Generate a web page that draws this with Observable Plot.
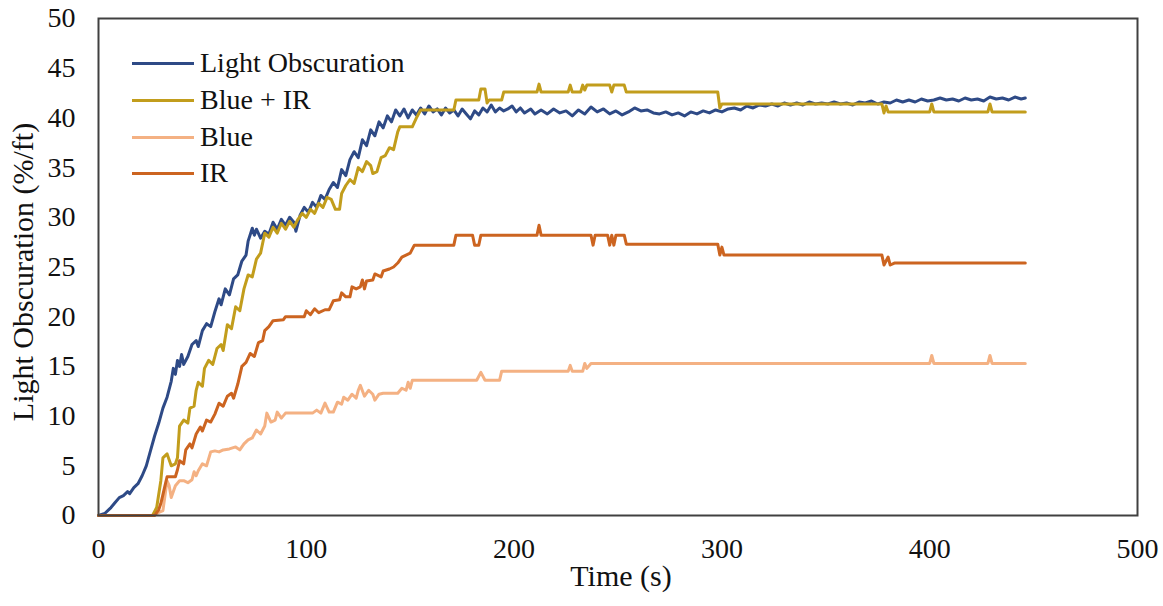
<!DOCTYPE html>
<html>
<head>
<meta charset="utf-8">
<script src="https://cdn.jsdelivr.net/npm/d3@7"></script>
<script src="https://cdn.jsdelivr.net/npm/@observablehq/plot@0.6"></script>
<style>
  html, body { margin: 0; padding: 0; background: #fff; }
  #wrap { position: relative; width: 1163px; height: 606px; font-family: "Liberation Serif", "Times New Roman", serif; }
  .leg { position: absolute; left: 132px; height: 36px; line-height: 36px; font-size: 28px; color: #111; white-space: nowrap; font-family: "Liberation Serif", "Times New Roman", serif; }
  .leg .sw { display: inline-block; width: 62px; height: 3px; vertical-align: middle; margin-right: 6px; position: relative; top: -2px; }
</style>
</head>
<body>
<div id="wrap"></div>
<script>
// ---- Data ----
const seriesNames = ["Light Obscuration", "Blue + IR", "Blue", "IR"];
const seriesColors = ["#2E4A86", "#C29D1C", "#F4B183", "#CC6420"];
const xTicks = [0, 100, 200, 300, 400, 500];
const yTicks = [0, 5, 10, 15, 20, 25, 30, 35, 40, 45, 50];

// Light Obscuration: [time (s), %/ft]
const lightObscuration = [
  [0,0],[3,0.2],[6,0.8],[8,1.3],[10,1.8],[12,2.0],[14,2.4],[15,2.2],[17,2.8],[19,3.2],[21,4.0],[23,5.0],
  [25,6.5],[27,8.0],[29,9.3],[31,10.8],[33,11.9],[35,13.5],[36,14.8],[37,14.2],[38,15.6],[39,15.0],[40,16.2],
  [41,15.2],[43,16.0],[45,17.2],[47,17.6],[48,17.0],[50,18.6],[52,19.3],[54,19.0],[56,20.5],[58,21.8],[59,21.2],
  [61,22.8],[63,22.2],[65,23.8],[67,24.2],[69,25.6],[71,26.2],[72,27.6],[74,28.9],[75,28.2],[76,28.8],[78,27.9],
  [80,28.6],[82,28.3],[84,29.5],[86,28.8],[88,29.8],[90,29.2],[92,30.0],[94,29.5],[95,28.6],[97,30.2],[99,31.0],
  [101,30.5],[103,31.5],[105,31.0],[107,32.2],[109,31.8],[111,32.8],[113,33.5],[115,33.0],[117,34.8],[119,34.2],
  [121,35.8],[123,36.6],[125,36.0],[127,37.8],[129,37.2],[131,38.8],[133,38.2],[135,39.6],[137,39.0],[139,40.2],
  [141,39.6],[143,40.8],[145,40.2],[147,40.9],[149,40.0],[151,40.8],[153,40.3],[155,41.0],[157,40.4],[159,41.2],
  [161,40.6],[163,40.9],[165,40.3],[167,41.0],[169,40.5],[171,40.8],[173,40.2],[175,40.9],[177,40.4],[179,39.9],
  [181,40.7],[183,40.3],[185,41.0],[187,40.6],[189,41.3],[191,40.6],[193,41.0],[195,40.7],[197,40.9],[199,41.2],
  [201,40.6],[203,41.0],[205,40.5],[208,40.9],[210,40.4],[213,40.8],[216,40.4],[219,40.9],[222,40.5],[225,40.7],
  [228,40.2],[231,40.8],[234,40.4],[237,41.1],[240,40.6],[243,40.9],[246,40.4],[249,40.7],[252,40.3],[255,40.6],
  [258,41.0],[261,40.7],[264,40.8],[267,40.5],[270,40.4],[273,40.6],[276,40.3],[279,40.5],[282,40.2],[285,40.6],
  [288,40.4],[291,40.7],[294,40.5],[297,40.8],[300,40.6],[303,40.9],[306,41.0],[309,40.8],[312,41.2],[315,41.0],
  [318,41.3],[321,41.2],[324,41.4],[327,41.2],[330,41.5],[333,41.3],[336,41.5],[339,41.3],[342,41.6],[345,41.4],
  [348,41.5],[351,41.4],[354,41.6],[357,41.4],[360,41.5],[363,41.3],[366,41.6],[369,41.5],[372,41.7],[375,41.4],
  [378,41.6],[381,41.5],[384,41.8],[387,41.6],[390,41.8],[393,41.6],[396,41.9],[399,41.7],[402,41.8],[405,42.0],
  [408,41.8],[411,41.9],[414,41.7],[417,42.0],[420,41.8],[423,41.9],[426,41.7],[429,42.1],[432,41.9],[435,42.0],
  [438,41.8],[441,42.1],[444,41.9],[446,42.0]
];

// Blue + IR
const blueIR = [
  [0,0],[26,0],[28,0.8],[30,3.5],[31,5.8],[33,6.2],[35,5.0],[37,5.2],[38,5.8],[39,9.0],[41,9.6],[43,9.3],
  [44,10.8],[46,11.0],[47,12.6],[48,13.4],[50,13.0],[51,14.8],[53,15.6],[55,15.2],[57,16.8],[59,17.2],[60,16.6],
  [62,19.2],[64,18.8],[66,21.0],[68,20.6],[70,22.8],[72,24.2],[74,24.0],[76,25.8],[78,26.4],[80,28.4],[82,28.0],
  [84,29.0],[86,28.4],[88,29.4],[90,28.8],[92,29.6],[94,29.0],[96,29.8],[98,30.4],[100,30.0],[102,30.8],[104,30.4],
  [106,31.4],[108,31.0],[110,32.0],[112,31.8],[114,30.8],[116,30.8],[117,32.4],[119,33.2],[121,33.8],[123,33.4],
  [125,35.0],[127,34.6],[129,35.6],[131,35.2],[132,34.4],[134,34.6],[136,36.0],[138,36.2],[140,37.0],[142,36.8],
  [144,38.6],[145,39.1],[151,39.1],[153,40.0],[155,40.8],[171,40.8],[172,41.8],[183,41.8],[184,42.9],[186,42.9],
  [187,41.5],[188,41.8],[194,41.8],[195,42.6],[211,42.6],[212,43.4],[213,42.6],[226,42.6],[227,43.3],[228,42.6],
  [232,42.6],[233,43.3],[234,42.8],[235,43.3],[246,43.3],[247,42.6],[248,43.3],[253,43.3],[254,42.6],[298,42.6],
  [299,41.0],[300,41.4],[377,41.4],[378,40.5],[379,41.2],[380,40.6],[400,40.6],[401,41.4],[402,40.6],[428,40.6],
  [429,41.4],[430,40.6],[446,40.6]
];

// Blue
const blue = [
  [0,0],[27,0],[29,0.3],[31,0.5],[32,2.0],[33,3.5],[34,3.0],[35,1.8],[37,3.0],[39,3.5],[41,3.5],[43,3.3],
  [45,3.6],[46,4.4],[47,4.0],[48,4.5],[50,5.2],[52,5.0],[54,6.4],[56,6.5],[58,6.4],[60,6.6],[63,6.7],[66,6.9],
  [68,6.6],[70,7.2],[72,7.6],[74,7.8],[76,8.6],[78,8.2],[80,9.0],[81,10.3],[83,9.4],[85,9.6],[86,10.4],[88,9.8],
  [90,10.3],[103,10.3],[105,10.6],[107,10.3],[109,11.3],[111,10.4],[113,10.4],[115,11.4],[117,11.2],[118,11.9],
  [120,11.6],[122,12.2],[124,11.8],[125,12.6],[126,13.1],[128,12.0],[130,12.6],[132,12.2],[133,11.6],[135,12.2],
  [137,12.3],[144,12.3],[146,12.8],[148,12.6],[149,13.4],[150,12.8],[151,13.6],[182,13.6],[184,14.4],[186,13.6],
  [193,13.6],[194,14.5],[226,14.5],[227,15.1],[228,14.5],[233,14.5],[234,15.3],[235,14.8],[237,15.3],[400,15.3],
  [401,16.1],[402,15.3],[428,15.3],[429,16.1],[430,15.3],[446,15.3]
];

// IR
const ir = [
  [0,0],[27,0],[29,0.6],[30,1.2],[32,3.0],[33,3.9],[37,3.9],[38,4.6],[39,5.5],[41,5.2],[42,6.6],[44,7.2],
  [45,6.8],[47,8.2],[49,8.9],[50,8.5],[52,9.6],[54,9.4],[56,10.2],[58,11.3],[60,11.0],[62,12.0],[64,12.3],
  [65,11.8],[67,13.2],[69,15.0],[71,15.4],[73,16.3],[75,16.0],[77,17.4],[79,17.6],[80,18.6],[82,19.0],[84,19.6],
  [89,19.7],[90,20.0],[99,20.0],[100,20.6],[102,20.2],[104,20.8],[106,20.4],[109,20.7],[111,20.7],[113,21.6],
  [116,21.7],[117,22.4],[119,22.0],[121,22.0],[122,23.0],[124,22.8],[126,23.0],[127,23.7],[128,22.8],[129,23.6],
  [132,23.7],[133,24.3],[136,24.0],[137,24.6],[140,24.8],[142,25.0],[144,25.4],[146,26.0],[148,26.2],[150,26.4],
  [152,27.2],[171,27.2],[172,28.2],[180,28.2],[181,27.2],[183,27.2],[184,28.2],[211,28.2],[212,29.2],[213,28.2],
  [237,28.2],[238,27.2],[239,28.2],[245,28.2],[246,27.2],[247,28.2],[248,27.2],[249,28.2],[253,28.2],[254,27.3],
  [298,27.3],[299,26.2],[300,27.0],[301,26.2],[377,26.2],[378,25.2],[380,26.0],[381,25.2],[383,25.4],[446,25.4]
];

// ---- Build table ----
const seriesData = [lightObscuration, blueIR, blue, ir];
const rows = [];
seriesData.forEach((arr, i) => arr.forEach(([t, v]) => rows.push({series: seriesNames[i], t, v})));

const font = '"Liberation Serif", "Times New Roman", serif';

const chart = Plot.plot({
  width: 1163,
  height: 606,
  marginLeft: 98,
  marginRight: 26,
  marginTop: 18,
  marginBottom: 91,
  style: {fontFamily: font, fontSize: "28px", color: "#111", background: "#fff", overflow: "visible"},
  x: {domain: [0, 500], ticks: xTicks, tickSize: 0, tickPadding: 23, label: null},
  y: {domain: [0, 50], ticks: yTicks, tickSize: 0, tickPadding: 23, label: null},
  color: {domain: seriesNames, range: seriesColors},
  marks: [
    Plot.line(rows, {x: "t", y: "v", z: "series", stroke: "series", strokeWidth: 3, strokeLinejoin: "round"}),
    Plot.frame({stroke: "#404040", strokeWidth: 2}),
    Plot.text(["Time (s)"], {frameAnchor: "bottom", textAnchor: "middle", dx: 3, dy: 70, fontSize: 30, fill: "#111"}),
    Plot.text(["Light Obscuration (%/ft)"], {frameAnchor: "left", textAnchor: "middle", dx: -75, dy: 5, rotate: -90, fontSize: 30, fill: "#111"})
  ]
});

const wrap = document.getElementById("wrap");
wrap.appendChild(chart);

// Legend (HTML overlay inside the plot area)
const legendTops = [45, 82, 119, 155];
seriesNames.forEach((name, i) => {
  const row = document.createElement("div");
  row.className = "leg";
  row.style.top = legendTops[i] + "px";
  const sw = document.createElement("span");
  sw.className = "sw";
  sw.style.background = seriesColors[i];
  row.appendChild(sw);
  row.appendChild(document.createTextNode(name));
  wrap.appendChild(row);
});
</script>
</body>
</html>
